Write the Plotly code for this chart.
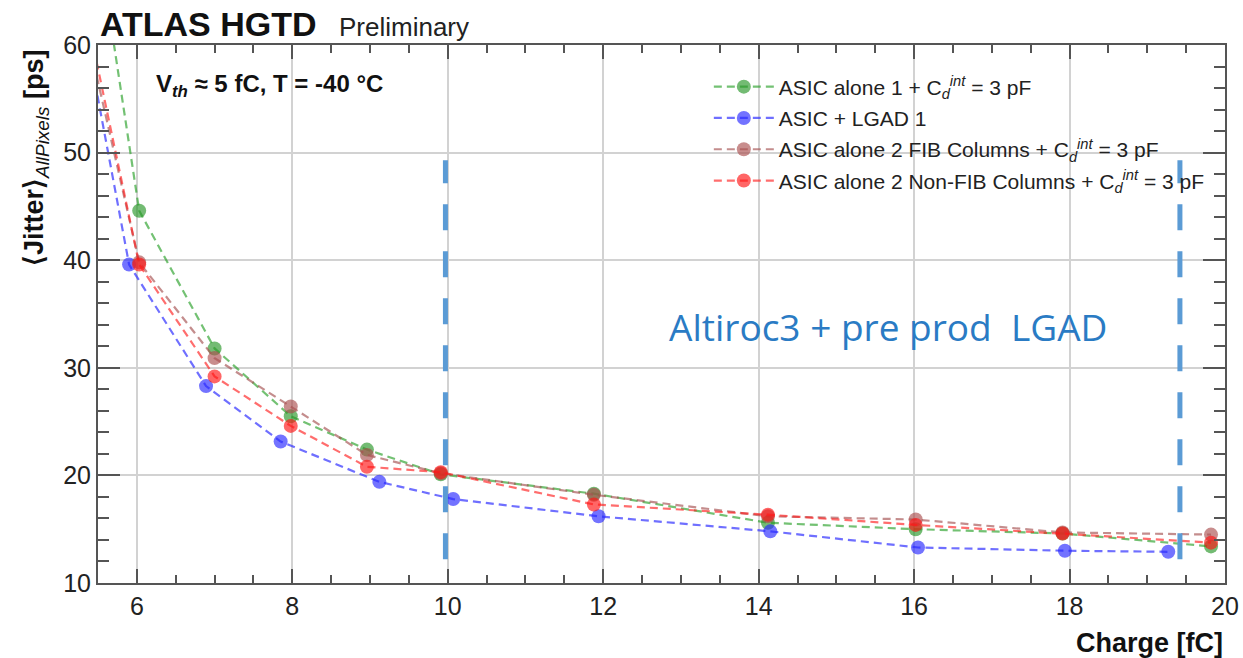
import plotly.graph_objects as go

# ---- data ----
charge_asic1 = [5.0, 6.03, 7.0, 7.98, 8.96, 9.91, 11.88, 14.12, 16.02, 17.91, 19.82]
jitter_asic1 = [93.6, 44.6, 31.8, 25.5, 22.4, 20.1, 18.3, 15.6, 15.0, 14.6, 13.4]

charge_lgad = [5.0, 5.90, 6.89, 7.85, 9.12, 10.07, 11.94, 14.15, 16.05, 17.94, 19.27]
jitter_lgad = [74.3, 39.6, 28.3, 23.15, 19.4, 17.8, 16.2, 14.8, 13.3, 13.0, 12.9]

charge_fib = [5.0, 6.03, 7.0, 7.98, 8.96, 9.91, 11.88, 14.12, 16.02, 17.91, 19.82]
jitter_fib = [72.4, 39.8, 30.9, 26.4, 21.9, 20.2, 18.2, 16.2, 15.9, 14.7, 14.5]

charge_nonfib = [5.0, 6.03, 7.0, 7.98, 8.96, 9.91, 11.88, 14.12, 16.02, 17.91, 19.82]
jitter_nonfib = [75.0, 39.6, 29.2, 24.6, 20.8, 20.3, 17.3, 16.35, 15.4, 14.6, 13.75]

series_names = [
    "ASIC alone 1 + C<sub><i>d</i></sub><sup><i>int</i></sup> = 3 pF",
    "ASIC + LGAD 1",
    "ASIC alone 2 FIB Columns + C<sub><i>d</i></sub><sup><i>int</i></sup> = 3 pF",
    "ASIC alone 2 Non-FIB Columns + C<sub><i>d</i></sub><sup><i>int</i></sup> = 3 pF",
]
range_lines_x = [9.97, 19.42]
range_lines_y = [12.2, 49.3]
region_label = "Altiroc3 + pre prod  LGAD"

colors = [
    ("rgba(40,150,40,0.65)", "rgba(40,160,40,0.65)"),
    ("rgba(40,40,255,0.65)", "rgba(50,50,255,0.7)"),
    ("rgba(170,80,80,0.65)", "rgba(165,80,80,0.65)"),
    ("rgba(255,20,20,0.65)", "rgba(255,30,30,0.65)"),
]

fig = go.Figure()
data = [(charge_asic1, jitter_asic1), (charge_lgad, jitter_lgad),
        (charge_fib, jitter_fib), (charge_nonfib, jitter_nonfib)]
for i, ((xs, ys), name, (mc, lc)) in enumerate(zip(data, series_names, colors)):
    fig.add_trace(go.Scatter(
        x=xs, y=ys, name=name, mode="lines+markers", legendgroup=f"g{i}",
        line=dict(color=lc, width=2.2, dash="8px,5px"),
        marker=dict(color=mc, size=14, line=dict(width=0)),
        cliponaxis=True,
    ))

for xv in range_lines_x:
    fig.add_shape(type="line", xref="x", yref="y", x0=xv, x1=xv,
                  y0=range_lines_y[0], y1=range_lines_y[1],
                  line=dict(color="#5b9bd5", width=5, dash="26px,21px"))

fig.add_annotation(x=15.66, y=33.8, xref="x", yref="y", text=region_label,
                   showarrow=False, yanchor="middle",
                   font=dict(family="Open Sans, Liberation Sans", size=37, color="#2a7bc4"))

# title
fig.add_annotation(x=0.0, y=1.0, xref="paper", yref="paper", xanchor="left", yanchor="bottom",
                   yshift=0, xshift=0, text="<b>ATLAS HGTD</b>",
                   showarrow=False, font=dict(family="Liberation Sans, Arial", size=34, color="#111"))
fig.add_annotation(x=0.2125, y=1.0, xref="paper", yref="paper", xanchor="left", yanchor="bottom",
                   yshift=1, text="Preliminary",
                   showarrow=False, font=dict(family="Liberation Sans, Arial", size=26, color="#222"))

fig.add_annotation(x=0.05, y=0.925, xref="paper", yref="paper", xanchor="left", yanchor="middle",
                   text="<b>V<sub><i>th</i></sub> ≈ 5 fC, T = -40 °C</b>",
                   showarrow=False, font=dict(family="Liberation Sans, Arial", size=24, color="#111"))

# axis titles as annotations
fig.add_annotation(x=1.0, y=-0.1115, xref="paper", yref="paper", xanchor="right", yanchor="middle",
                   text="<b>Charge [fC]</b>", showarrow=False,
                   font=dict(family="Liberation Sans, Arial", size=27, color="#111"))
fig.add_annotation(x=-0.055, y=0.79, xref="paper", yref="paper", xanchor="center", yanchor="middle",
                   textangle=-90,
                   text="<b>⟨Jitter⟩</b><sub><i>AllPixels</i></sub> <b>[ps]</b>", showarrow=False,
                   font=dict(family="Liberation Sans, Arial", size=27, color="#111"))

fig.update_layout(
    width=1243, height=658,
    margin=dict(l=98, r=18, t=45, b=75),
    paper_bgcolor="white", plot_bgcolor="white",
    font=dict(family="Liberation Sans, Arial", color="#222"),
    showlegend=True,
    legend=dict(x=0.542, y=0.96, xanchor="left", yanchor="top",
                bgcolor="rgba(0,0,0,0)", font=dict(size=21, color="#222"),
                tracegroupgap=1, itemwidth=60),
    xaxis=dict(range=[5.5, 20.0], dtick=2, tick0=0, showgrid=True, gridcolor="#d2d2d2", gridwidth=2,
               ticks="inside", ticklen=14, tickwidth=1.5, tickcolor="#555",
               minor=dict(ticks="inside", ticklen=8, dtick=0.5, tickcolor="#555", showgrid=False),
               showline=True, linecolor="#555", linewidth=2, mirror="ticks",
               tickfont=dict(size=25, color="#222"), zeroline=False, automargin=False),
    yaxis=dict(range=[10, 60], dtick=10, showgrid=True, gridcolor="#d2d2d2", gridwidth=2,
               ticks="inside", ticklen=22, tickwidth=1.5, tickcolor="#555",
               minor=dict(ticks="inside", ticklen=11, dtick=2, tickcolor="#555", showgrid=False),
               showline=True, linecolor="#555", linewidth=2, mirror="ticks",
               tickfont=dict(size=25, color="#222"), zeroline=False, automargin=False),
)

# remove the default 8px page margin so the figure fills the window exactly
fig.write_html("out.html", config={"displayModeBar": False},
               post_script="document.body.style.margin='0';document.documentElement.style.overflow='hidden';")
